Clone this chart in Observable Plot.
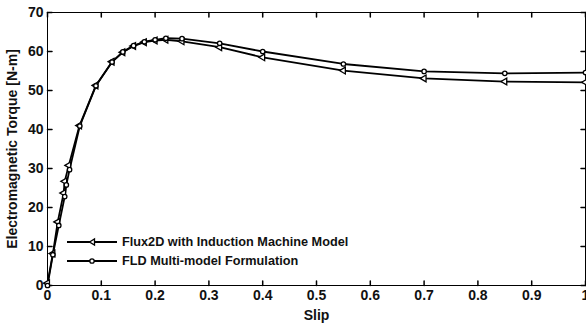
<!DOCTYPE html>
<html>
<head>
<meta charset="utf-8">
<script src="https://cdn.jsdelivr.net/npm/d3@7"></script>
<script src="https://cdn.jsdelivr.net/npm/@observablehq/plot@0.6"></script>
<style>
  html, body { margin: 0; padding: 0; background: #fff; }
  #wrap { position: relative; width: 586px; height: 325px; }
  #legend { position: absolute; left: 67px; top: 232px; font-family: "Liberation Sans", Arial, sans-serif; font-weight: bold; font-size: 12.7px; color: #111; }
  .row { display: flex; align-items: center; height: 19px; }
  .row svg { display: block; margin-right: 5px; }
</style>
</head>
<body>
<div id="wrap"></div>
<script>
// ---- data ----
const seriesNames = ["Flux2D with Induction Machine Model", "FLD Multi-model Formulation"];
const slipFlux = [0, 0.01, 0.019, 0.03, 0.032, 0.0395, 0.0595, 0.09, 0.12, 0.14, 0.16, 0.18, 0.2, 0.22, 0.25, 0.32, 0.4, 0.55, 0.7, 0.85, 1.0];
const torqueFlux = [0.6, 8.2, 16.3, 23.7, 26.7, 30.8, 41.0, 51.3, 57.4, 59.8, 61.4, 62.4, 62.8, 63.0, 62.6, 61.1, 58.5, 55.1, 53.1, 52.3, 52.1];
const slipFld = [0, 0.01, 0.021, 0.032, 0.035, 0.041, 0.06, 0.09, 0.12, 0.14, 0.16, 0.18, 0.2, 0.22, 0.25, 0.32, 0.4, 0.55, 0.7, 0.85, 1.0];
const torqueFld = [0, 7.9, 15.4, 22.8, 25.8, 29.7, 40.9, 51.2, 57.3, 59.9, 61.5, 62.5, 63.0, 63.4, 63.3, 62.1, 60.0, 56.8, 54.9, 54.4, 54.6];
const xTicks = [0, 0.1, 0.2, 0.3, 0.4, 0.5, 0.6, 0.7, 0.8, 0.9, 1];
const yTicks = [0, 10, 20, 30, 40, 50, 60, 70];

const flux = slipFlux.map((s, i) => ({slip: s, torque: torqueFlux[i]}));
const fld = slipFld.map((s, i) => ({slip: s, torque: torqueFld[i]}));

const tickLen = 4.5;
const tickShape = {draw(context, l) { context.moveTo(0, 0); context.lineTo(0, -l); }};

const chart = Plot.plot({
  width: 586,
  height: 325,
  marginLeft: 47,
  marginRight: 1,
  marginTop: 12,
  marginBottom: 40,
  style: {fontFamily: "'Liberation Sans', Arial, sans-serif", fontSize: "14px", fontWeight: "bold", color: "#111", background: "#fff"},
  x: {domain: [0, 1]},
  y: {domain: [0, 70]},
  marks: [
    Plot.frame({stroke: "#000", strokeWidth: 1}),
    Plot.vectorX(xTicks, {x: d => d, frameAnchor: "bottom", rotate: 0, length: tickLen, anchor: "start", shape: tickShape, stroke: "#000"}),
    Plot.vectorX(xTicks, {x: d => d, frameAnchor: "top", rotate: 180, length: tickLen, anchor: "start", shape: tickShape, stroke: "#000"}),
    Plot.vectorY(yTicks, {y: d => d, frameAnchor: "left", rotate: 90, length: tickLen, anchor: "start", shape: tickShape, stroke: "#000"}),
    Plot.vectorY(yTicks, {y: d => d, frameAnchor: "right", rotate: -90, length: tickLen, anchor: "start", shape: tickShape, stroke: "#000"}),
    Plot.axisX({ticks: xTicks, tickFormat: d => String(d), tickSize: 0, tickPadding: 5, label: "Slip", labelAnchor: "center", labelOffset: 34, labelArrow: "none"}),
    Plot.axisY({ticks: yTicks, tickFormat: d => String(d), tickSize: 0, tickPadding: 4, label: "Electromagnetic Torque [N-m]", labelAnchor: "center", labelOffset: 40, labelArrow: "none"}),
    Plot.line(flux, {x: "slip", y: "torque", stroke: "#000", strokeWidth: 1.8}),
    Plot.line(fld, {x: "slip", y: "torque", stroke: "#000", strokeWidth: 1.8}),
    Plot.dot(flux, {x: "slip", y: "torque", symbol: "triangle", rotate: -90, r: 2.5, stroke: "#000", fill: "#fff", strokeWidth: 1.3}),
    Plot.dot(fld, {x: "slip", y: "torque", symbol: "circle", r: 2.2, stroke: "#000", fill: "#fff", strokeWidth: 1.3})
  ]
});

const wrap = document.getElementById("wrap");
wrap.appendChild(chart);

// legend
const legend = document.createElement("div");
legend.id = "legend";
const symbols = [
  `<polygon points="22.5,0 27.5,-3 27.5,3" />`,
  `<circle cx="25" r="2.2" />`
];
seriesNames.forEach((name, i) => {
  const row = document.createElement("div");
  row.className = "row";
  row.innerHTML = `<svg width="50" height="10" viewBox="0 -5 50 10"><line x1="0" x2="50" y1="0" y2="0" stroke="#000" stroke-width="1.8"/><g fill="#fff" stroke="#000" stroke-width="1.3">${symbols[i]}</g></svg><span>${name}</span>`;
  legend.appendChild(row);
});
wrap.appendChild(legend);
</script>
</body>
</html>
